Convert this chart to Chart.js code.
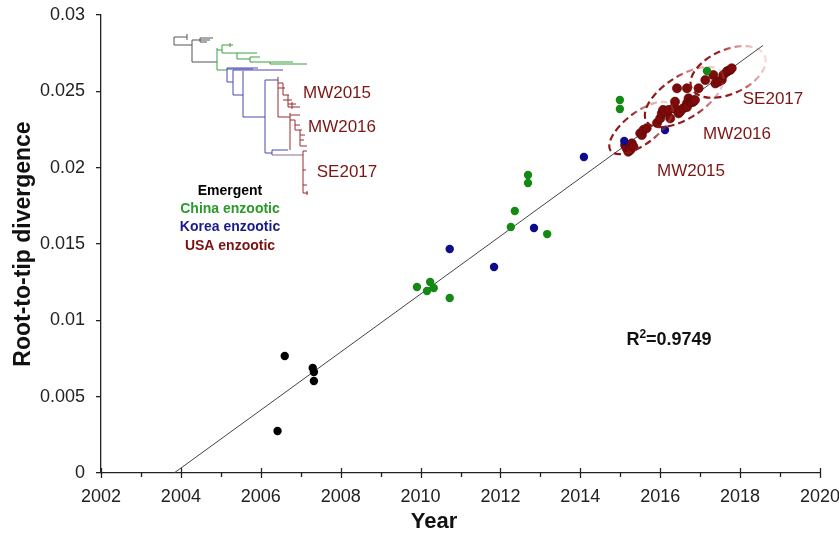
<!DOCTYPE html>
<html lang="en">
  <head>
    <meta charset="UTF-8" />
    <title>Root-to-tip divergence</title>
    <script src="https://cdn.jsdelivr.net/npm/chart.js@4.4.1/dist/chart.umd.min.js"></script>
    <style>
      html, body { margin: 0; padding: 0; background: #fff; }
      #wrap { width: 839px; height: 539px; }
    </style>
  </head>
  <body>
    <div id="wrap"><canvas id="chart"></canvas></div>

    <script>
      // values
      const emergentX = [2006.42, 2006.60, 2007.30, 2007.33, 2007.33];
      const emergentY = [0.00275, 0.00766, 0.00688, 0.00662, 0.00603];

      const chinaX = [2009.91, 2010.16, 2010.24, 2010.33, 2010.73, 2012.26, 2012.36, 2012.69, 2012.69, 2013.17, 2014.99, 2014.99, 2017.17];
      const chinaY = [0.01218, 0.01192, 0.01251, 0.01212, 0.01146, 0.01611, 0.01716, 0.01900, 0.01952, 0.01565, 0.02384, 0.02443, 0.02633];

      const koreaX = [2010.73, 2011.84, 2012.84, 2014.09, 2015.10, 2016.12];
      const koreaY = [0.01467, 0.01349, 0.01605, 0.02070, 0.02175, 0.02247];

      const usaX = [2015.12, 2015.16, 2015.20, 2015.25, 2015.25, 2015.29, 2015.33, 2015.50, 2015.54, 2015.58, 2015.66,
        2015.92, 2016.00, 2016.04, 2016.07, 2016.12, 2016.21, 2016.25, 2016.33, 2016.37, 2016.42, 2016.42, 2016.46,
        2016.50, 2016.58, 2016.67, 2016.67, 2016.67, 2016.71, 2016.75, 2016.79, 2016.83, 2016.87, 2016.96, 2017.13,
        2017.33, 2017.38, 2017.46, 2017.54, 2017.58, 2017.67, 2017.69, 2017.75, 2017.79];
      const usaY = [0.02148, 0.02127, 0.02105, 0.02148, 0.02116, 0.02159, 0.02137, 0.02225, 0.02214, 0.02247, 0.02258,
        0.02293, 0.02323, 0.02356, 0.02378, 0.02367, 0.02378, 0.02323, 0.02389, 0.02432, 0.02520, 0.02378, 0.02356,
        0.02367, 0.02389, 0.02520, 0.02422, 0.02397, 0.02454, 0.02432, 0.02429, 0.02432, 0.02443, 0.02520, 0.02574,
        0.02607, 0.02552, 0.02563, 0.02574, 0.02607, 0.02629, 0.02633, 0.02640, 0.02651];

      const fitX = [2003.83, 2018.57];
      const fitY = [0, 0.0280];

      const groupNames = ["Emergent", "China enzootic", "Korea enzootic", "USA enzootic"];
      const clusterNames = ["MW2015", "MW2016", "SE2017"];
      const clusterX = [2015.52, 2016.60, 2017.70];
      const clusterY = [0.02260, 0.02463, 0.02627];
      const r2Text = "0.9749";

      const xTicks = [2002, 2004, 2006, 2008, 2010, 2012, 2014, 2016, 2018, 2020];

      const FONT = "'Liberation Sans', Arial, sans-serif";
      const DARKRED = "#7d1515";
      const groupColors = ["#000000", "#2a9a2a", "#1a1a8a", "#7a1212"];
      const pointColors = ["#000000", "#148a14", "#0c0c8c", "#7e0a0a"];

      const pts = (xs, ys) => xs.map((x, i) => ({ x: x, y: ys[i] }));

      // inset tree, drawn as a picture in the top-left corner (pixels)
      const G = "#555555", GR = "#3f9f3f", B = "#4848b0", R = "#9a2a2a";
      const tree = [
        [174,37,174,45,G],[174,37,187,37,G],[187,34,187,40,G],[174,45,192,45,G],
        [192,40,192,62,G],[192,40,200,40,G],[200,38,200,42,G],[200,38,213,38,G],
        [200,40,210,40,G],[200,42,207,42,G],[192,62,217,62,G],
        [217,48,217,70,GR],[217,50,222,50,GR],[222,45,222,53,GR],[222,45,233,45,GR],
        [230,43,230,47,GR],[222,53,237,53,GR],[237,53,237,59,GR],[237,53,257,53,GR],
        [237,59,250,59,GR],[250,57,250,62,GR],[250,57,260,57,GR],[250,62,270,62,GR],
        [270,62,270,64,GR],[270,62,293,62,GR],[270,64,307,64,GR],[217,70,227,70,GR],
        [227,68,227,82,B],[227,68,258,68,B],[227,69,253,69,B],[227,82,233,82,B],
        [233,70,233,95,B],[233,70,283,70,B],[233,95,243,95,B],[243,71,243,117,B],
        [243,117,265,117,B],[265,80,265,153,B],[265,80,278,80,B],[265,153,272,153,B],
        [272,150,272,155,B],[272,150,288,150,B],[272,155,303,155,"#8a6a9a"],
        [278,77,278,117,R],[278,83,283,83,R],[278,88,285,88,R],[283,83,283,95,R],
        [283,95,289,95,R],[283,100,292,100,R],[288,95,288,107,R],[288,104,296,104,R],
        [288,107,300,107,R],[292,102,292,109,R],[278,117,290,117,R],[290,113,290,150,R],
        [290,115,300,115,R],[290,120,295,120,R],[295,120,295,130,R],[295,125,300,125,R],
        [295,130,302,130,R],[300,130,300,146,R],[300,135,305,135,R],[300,140,304,140,R],
        [300,146,307,146,R],[303,151,303,193,R],[303,151,307,151,R],[303,170,306,170,R],
        [303,185,307,185,R],[303,193,308,193,R],[307,191,307,195,R]
      ];

      const figurePlugin = {
        id: "figure",
        beforeDatasetsDraw(chart) {
          const ctx = chart.ctx;
          const xs = chart.scales.x;
          const y0 = chart.chartArea.bottom;
          ctx.save();
          // x ticks: majors cross the axis, minors hang below
          ctx.strokeStyle = "#222";
          ctx.lineWidth = 1.3;
          for (let yr = xs.min; yr <= xs.max; yr++) {
            const px = Math.round(xs.getPixelForValue(yr)) + 0.5;
            ctx.beginPath();
            if (yr % 2 === 0) {
              ctx.moveTo(px, y0 - 5);
              ctx.lineTo(px, y0 + 5);
            } else {
              ctx.moveTo(px, y0);
              ctx.lineTo(px, y0 + 4);
            }
            ctx.stroke();
          }
          // tree
          ctx.lineWidth = 1;
          for (const s of tree) {
            ctx.strokeStyle = s[4];
            ctx.beginPath();
            ctx.moveTo(s[0], s[1]);
            ctx.lineTo(s[2], s[3]);
            ctx.stroke();
          }
          ctx.restore();
        },
        afterDatasetsDraw(chart) {
          const ctx = chart.ctx;
          const xs = chart.scales.x, ys = chart.scales.y;
          const sizes = [[38, 16, -37], [45, 21, -33], [40, 22, -24]];
          ctx.save();
          clusterX.forEach((cxv, i) => {
            const cx = xs.getPixelForValue(cxv);
            const cy = ys.getPixelForValue(clusterY[i]);
            const [a, b, deg] = sizes[i];
            const ang = (deg * Math.PI) / 180;
            const dx = Math.cos(ang) * a, dy = Math.sin(ang) * a;
            const g = ctx.createLinearGradient(cx - dx, cy - dy, cx + dx, cy + dy);
            g.addColorStop(0, "rgba(140,22,22,1)");
            g.addColorStop(0.5, "rgba(140,22,22,0.95)");
            g.addColorStop(0.75, "rgba(175,60,60,0.55)");
            g.addColorStop(1, "rgba(215,120,120,0.25)");
            ctx.strokeStyle = g;
            ctx.lineWidth = 2.2;
            ctx.setLineDash([7, 4]);
            ctx.beginPath();
            ctx.ellipse(cx, cy, a, b, ang, 0, Math.PI * 2);
            ctx.stroke();
          });
          ctx.restore();
        },
        afterDraw(chart) {
          const ctx = chart.ctx;
          ctx.save();
          ctx.textAlign = "center";
          ctx.textBaseline = "middle";

          // legend as coloured words
          ctx.font = "bold 14px " + FONT;
          const legendY = [191, 209, 227, 246];
          groupNames.forEach((n, i) => {
            ctx.fillStyle = groupColors[i];
            ctx.fillText(n, 230, legendY[i]);
          });

          // cluster names, beside tree and beside points
          ctx.font = "17px " + FONT;
          ctx.fillStyle = DARKRED;
          const treeLab = [[337, 93], [342, 127], [347, 172]];
          const plotLab = [[691, 171], [737, 134], [773, 99]];
          clusterNames.forEach((n, i) => {
            ctx.fillText(n, treeLab[i][0], treeLab[i][1]);
            ctx.fillText(n, plotLab[i][0], plotLab[i][1]);
          });

          // R squared
          ctx.fillStyle = "#111";
          ctx.textAlign = "left";
          ctx.font = "bold 18px " + FONT;
          const wR = ctx.measureText("R").width;
          const rest = "=" + r2Text;
          const wRest = ctx.measureText(rest).width;
          ctx.font = "bold 12px " + FONT;
          const w2 = ctx.measureText("2").width;
          let x = 669 - (wR + w2 + wRest) / 2;
          ctx.font = "bold 18px " + FONT;
          ctx.fillText("R", x, 340);
          ctx.font = "bold 12px " + FONT;
          ctx.fillText("2", x + wR, 335);
          ctx.font = "bold 18px " + FONT;
          ctx.fillText(rest, x + wR + w2, 340);

          // x title
          ctx.textAlign = "center";
          ctx.font = "bold 22px " + FONT;
          ctx.fillText("Year", 434, 522);
          ctx.restore();
        },
      };

      new Chart(document.getElementById("chart"), {
        type: "scatter",
        data: {
          datasets: [
            { label: "fit", type: "line", data: pts(fitX, fitY), borderColor: "#444", borderWidth: 1,
              pointRadius: 0, showLine: true, fill: false, order: 10 },
            { label: groupNames[0], data: pts(emergentX, emergentY), backgroundColor: pointColors[0] },
            { label: groupNames[1], data: pts(chinaX, chinaY), backgroundColor: pointColors[1] },
            { label: groupNames[2], data: pts(koreaX, koreaY), backgroundColor: pointColors[2] },
            { label: groupNames[3], data: pts(usaX, usaY), backgroundColor: pointColors[3],
              borderColor: "#5a0606", borderWidth: 0.6, pointRadius: 4.6 },
          ],
        },
        options: {
          responsive: true,
          maintainAspectRatio: false,
          animation: false,
          events: [],
          layout: { padding: 0 },
          elements: { point: { radius: 4.2, borderWidth: 0, hoverRadius: 4.2 } },
          plugins: { legend: { display: false }, tooltip: { enabled: false } },
          scales: {
            x: {
              type: "linear",
              min: 2002,
              max: 2020,
              afterFit: (s) => { s.height = 66; s.paddingRight = 19; s.paddingLeft = 0; },
              afterBuildTicks: (s) => { s.ticks = xTicks.map((v) => ({ value: v })); },
              grid: { display: false, drawTicks: false },
              border: { display: true, color: "#222", width: 1.3 },
              ticks: {
                padding: 13,
                color: "#222",
                font: { family: FONT, size: 18 },
                maxRotation: 0,
                callback: (v) => String(v),
              },
            },
            y: {
              min: 0,
              max: 0.03,
              afterFit: (s) => { s.width = 101; s.paddingTop = 15; s.paddingBottom = 0; },
              grid: { drawOnChartArea: false, drawTicks: true, tickLength: 5, color: "#222", lineWidth: 1.3 },
              border: { display: true, color: "#222", width: 1.3 },
              ticks: {
                stepSize: 0.005,
                padding: 11,
                color: "#222",
                font: { family: FONT, size: 18 },
                callback: (v) => (v === 0 ? "0" : String(+v.toFixed(3))),
              },
              title: {
                display: true,
                text: "Root-to-tip divergence",
                color: "#111",
                font: { family: FONT, size: 23, weight: "bold" },
                padding: { top: 10, bottom: 0 },
              },
            },
          },
        },
        plugins: [figurePlugin],
      });
    </script>
  </body>
</html>
